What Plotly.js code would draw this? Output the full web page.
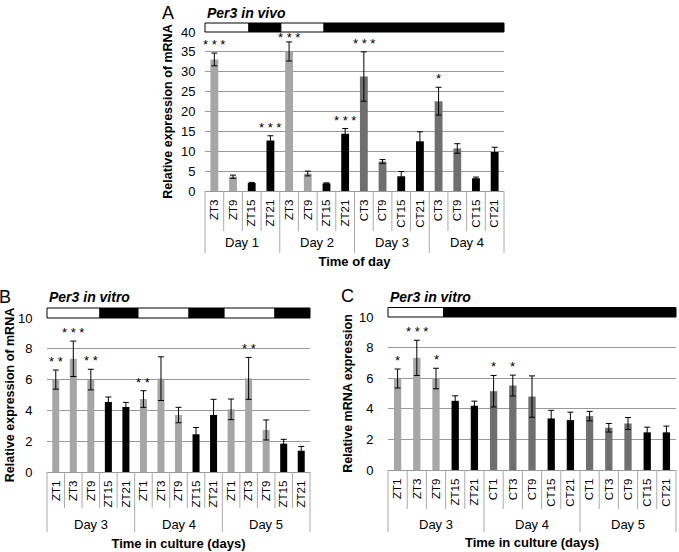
<!DOCTYPE html>
<html><head><meta charset="utf-8">
<script src="https://cdn.plot.ly/plotly-3.0.1.min.js"></script>
<style>html,body{margin:0;padding:0;background:#fff}#chart{width:679px;height:552px}</style>
</head><body><div id="chart"></div>
<script>
// ---------- Panel A data (Per3 in vivo) ----------
const daysA = ['Day 1', 'Day 2', 'Day 3', 'Day 4'];
const labelsA = ['ZT3','ZT9','ZT15','ZT21','ZT3','ZT9','ZT15','ZT21','CT3','CT9','CT15','CT21','CT3','CT9','CT15','CT21'];
const valuesA = [33.1, 3.6, 2.0, 12.7, 35.1, 4.4, 1.9, 14.4, 28.8, 7.4, 3.7, 12.5, 22.6, 10.7, 3.2, 9.8];
const errorsA = [1.6, 0.4, 0.15, 1.2, 2.4, 0.6, 0.15, 1.3, 6.2, 0.5, 1.2, 2.4, 3.5, 1.2, 0.3, 1.2];
const sigA = ['***','','','***','***','','','***','***','','','','*','','',''];
// light (L) / dark (D) schedule, in category-index units
const scheduleA = [['L', -0.5, 1.85], ['D', 1.85, 3.56], ['L', 3.56, 5.87], ['D', 5.87, 15.5]];

// ---------- Panel B data (Per3 in vitro, LD) ----------
const daysB = ['Day 3', 'Day 4', 'Day 5'];
const labelsB = ['ZT1','ZT3','ZT9','ZT15','ZT21','ZT1','ZT3','ZT9','ZT15','ZT21','ZT1','ZT3','ZT9','ZT15','ZT21'];
const valuesB = [6.0, 7.35, 6.0, 4.55, 4.22, 4.74, 6.06, 3.7, 2.45, 3.7, 4.07, 6.08, 2.73, 1.84, 1.38];
const errorsB = [0.62, 1.15, 0.67, 0.32, 0.3, 0.54, 1.42, 0.5, 0.44, 1.02, 0.67, 1.36, 0.65, 0.28, 0.28];
const sigB = ['**','***','**','','','**','','','','','','**','','',''];
const scheduleB = [['L', -0.5, 2.52], ['D', 2.52, 4.69], ['L', 4.69, 7.6], ['D', 7.6, 9.6], ['L', 9.6, 12.5], ['D', 12.5, 14.5]];

// ---------- Panel C data (Per3 in vitro, LD then DD) ----------
const daysC = ['Day 3', 'Day 4', 'Day 5'];
const labelsC = ['ZT1','ZT3','ZT9','ZT15','ZT21','CT1','CT3','CT9','CT15','CT21','CT1','CT3','CT9','CT15','CT21'];
const valuesC = [5.98, 7.33, 5.98, 4.52, 4.2, 5.15, 5.52, 4.8, 3.37, 3.26, 3.52, 2.76, 3.04, 2.46, 2.46];
const errorsC = [0.62, 1.15, 0.67, 0.33, 0.3, 1.03, 0.68, 1.35, 0.53, 0.52, 0.31, 0.28, 0.39, 0.34, 0.41];
const sigC = ['*','***','*','','','*','*','','','','','','','',''];
const scheduleC = [['L', -0.5, 2.4], ['D', 2.4, 14.5]];

// ---------- styling ----------
const FONT = 'Liberation Sans, Arial, sans-serif';
const LIGHT = '#a6a6a6', DARK = '#6f6f6f', BLACK = '#000000', GRID = '#999999', DIV = '#aaaaaa';

function barColor(lbl) {
  const n = parseInt(lbl.slice(2), 10);
  if (n >= 15) return BLACK;
  return lbl.startsWith('ZT') ? LIGHT : DARK;
}

const panels = [
  { id: '', letter: 'A', title: 'Per3 in vivo', days: daysA, labels: labelsA, values: valuesA, errors: errorsA, sig: sigA, schedule: scheduleA,
    xTitle: 'Time of day', yTitle: 'Relative expression of mRNA', yMax: 40, dtick: 5,
    xdom: [205/679, 504/679], ydom: [(552-191)/552, (552-32)/552], innerDiv: -40/159, dayDiv: -62/159, dayY: -52/159, barH: 9/159, bargap: 0.58,
    letterPos: [168, 13], titlePos: [205, 13], xStandoff: 30, yStandoff: 5, yTickLen: 6 },
  { id: '2', letter: 'B', title: 'Per3 in vitro', days: daysB, labels: labelsB, values: valuesB, errors: errorsB, sig: sigB, schedule: scheduleB,
    xTitle: 'Time in culture (days)', yTitle: 'Relative expression of mRNA', yMax: 10, dtick: 2,
    xdom: [47/679, 310/679], ydom: [(552-472)/552, (552-318)/552], innerDiv: -36/154, dayDiv: -60/154, dayY: -52/154, barH: 10/154, bargap: 0.6,
    letterPos: [5, 297], titlePos: [47, 297], xStandoff: 32, yStandoff: 0, yTickLen: 11 },
  { id: '3', letter: 'C', title: 'Per3 in vitro', days: daysC, labels: labelsC, values: valuesC, errors: errorsC, sig: sigC, schedule: scheduleC,
    xTitle: 'Time in culture (days)', yTitle: 'Relative mRNA expression', yMax: 10, dtick: 2,
    xdom: [388/679, 676/679], ydom: [(552-470)/552, (552-317)/552], innerDiv: -39/153, dayDiv: -62/153, dayY: -54/153, barH: 9.5/153, bargap: 0.62,
    letterPos: [347, 296], titlePos: [388, 297], xStandoff: 32, yStandoff: 3, yTickLen: 11 }
];

const data = [];
const shapes = [];
const annotations = [];
const layout = {
  width: 679, height: 552,
  margin: { l: 0, r: 0, t: 0, b: 0 },
  paper_bgcolor: '#ffffff', plot_bgcolor: '#ffffff',
  showlegend: false,
  font: { family: FONT, size: 12, color: '#000' },
  shapes: shapes, annotations: annotations
};

panels.forEach(p => {
  const n = p.labels.length;
  const g = n / p.days.length;
  const idx = p.labels.map((_, i) => i);
  const xa = 'x' + p.id, ya = 'y' + p.id;
  const xKey = 'xaxis' + p.id, yKey = 'yaxis' + p.id;

  data.push({
    type: 'bar', x: idx, y: p.values, xaxis: xa, yaxis: ya, width: 1 - p.bargap,
    marker: { color: p.labels.map(barColor), line: { width: 0 } },
    error_y: { type: 'data', array: p.errors, visible: true, color: '#000', thickness: 1, width: 3 },
    hoverinfo: 'y'
  });

  layout[xKey] = {
    domain: p.xdom, anchor: ya, range: [-0.5, n - 0.5], fixedrange: true,
    tickmode: 'array', tickvals: idx, ticktext: p.labels, tickangle: -90,
    ticks: 'outside', ticklen: 3, tickcolor: 'rgba(0,0,0,0)', showgrid: false, zeroline: false,
    showline: true, linecolor: GRID, linewidth: 1,
    tickfont: { family: FONT, size: 11.5, color: '#000' },
    title: { text: '<b>' + p.xTitle + '</b>', font: { family: FONT, size: 13, color: '#000' }, standoff: p.xStandoff }
  };
  layout[yKey] = {
    domain: p.ydom, anchor: xa, range: [0, p.yMax], dtick: p.dtick, tick0: 0, fixedrange: true,
    showgrid: true, gridcolor: GRID, gridwidth: 1, zeroline: false, showline: false,
    ticks: 'outside', ticklen: p.yTickLen, tickcolor: 'rgba(0,0,0,0)',
    tickfont: { family: FONT, size: 13, color: '#000' },
    title: { text: '<b>' + p.yTitle + '</b>', font: { family: FONT, size: 12.5, color: '#000' }, standoff: p.yStandoff }
  };

  const xd = xa + ' domain', yd = ya + ' domain';
  // light/dark bar
  p.schedule.forEach(s => {
    shapes.push({ type: 'rect', xref: xd, yref: yd,
      x0: (s[1] + 0.5) / n, x1: (s[2] + 0.5) / n, y0: 1, y1: 1 + p.barH,
      fillcolor: s[0] === 'L' ? '#ffffff' : '#000000', line: { color: '#000', width: 1 }, layer: 'above' });
  });
  // category dividers
  for (let i = 0; i <= n; i++) {
    shapes.push({ type: 'line', xref: xd, yref: yd, x0: i / n, x1: i / n, y0: 0,
      y1: (i % g === 0) ? p.dayDiv : p.innerDiv, line: { color: DIV, width: 1 } });
  }
  // day labels
  p.days.forEach((d, k) => {
    annotations.push({ xref: xa, yref: yd, x: k * g + (g - 1) / 2, y: p.dayY, text: d, showarrow: false,
      xanchor: 'center', yanchor: 'middle', font: { family: FONT, size: 13, color: '#000' } });
  });
  // significance stars (kept below the light/dark bar)
  const starCap = p.yMax * 0.91;
  p.sig.forEach((s, i) => {
    if (!s) return;
    annotations.push({ xref: xa, yref: ya, x: i, y: Math.min(p.values[i] + p.errors[i], starCap), text: s.split('').join(' '),
      showarrow: false, xanchor: 'center', yanchor: 'bottom', yshift: -1, font: { family: FONT, size: 13, color: '#000' } });
  });
  // panel letter and title
  annotations.push({ xref: 'paper', yref: 'paper', x: p.letterPos[0] / 679, y: 1 - p.letterPos[1] / 552, text: p.letter,
    showarrow: false, xanchor: 'center', yanchor: 'middle', font: { family: FONT, size: 18, color: '#000' } });
  annotations.push({ xref: 'paper', yref: 'paper', x: p.titlePos[0] / 679, y: 1 - p.titlePos[1] / 552, text: '<b><i>' + p.title + '</i></b>',
    showarrow: false, xanchor: 'left', yanchor: 'middle', font: { family: FONT, size: 14, color: '#000' } });
});

Plotly.newPlot('chart', data, layout, { staticPlot: true, displayModeBar: false });
</script>
</body></html>
